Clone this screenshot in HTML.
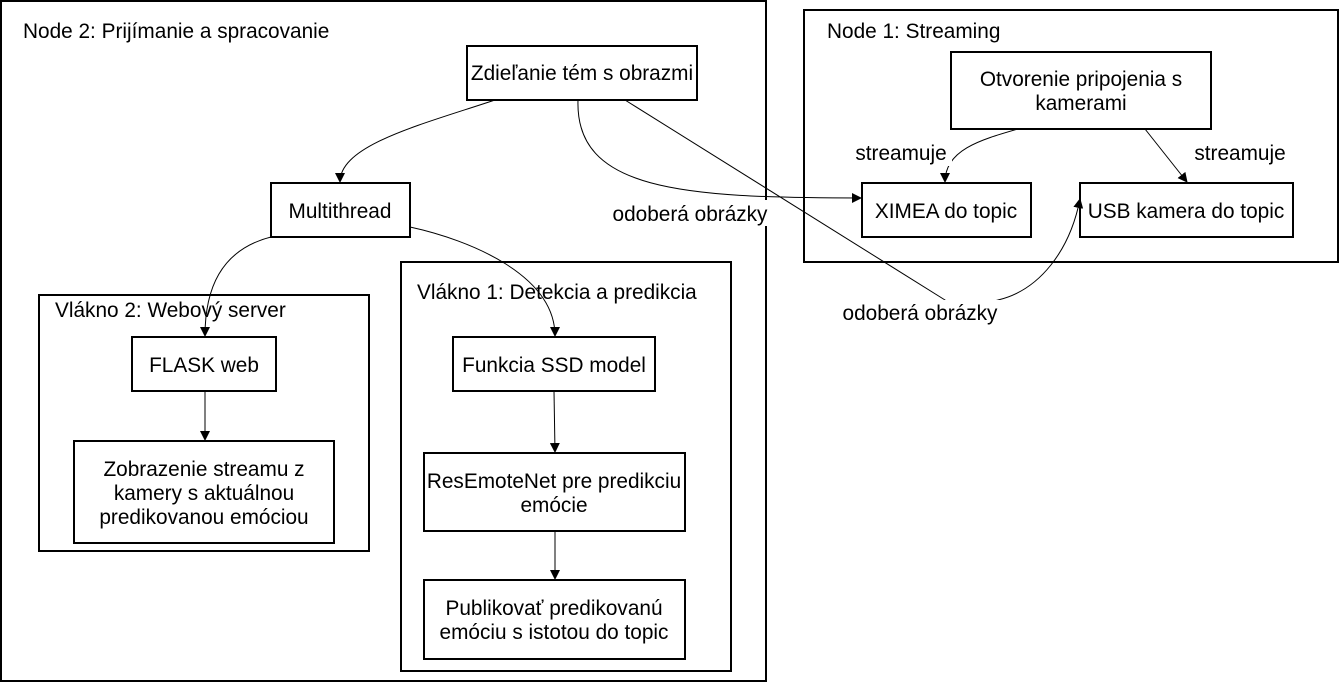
<!DOCTYPE html>
<html><head><meta charset="utf-8"><style>
html,body{margin:0;padding:0;background:#fff;}
svg{display:block;font-family:"Liberation Sans",sans-serif;}
</style></head><body>
<svg width="1340" height="682" viewBox="0 0 1340 682" xmlns="http://www.w3.org/2000/svg">
<defs><marker id="a" markerWidth="10" markerHeight="10" refX="9" refY="5" orient="auto" markerUnits="userSpaceOnUse"><path d="M0,0 L10,5 L0,10 Z" fill="#000"/></marker></defs>
<g fill="none" stroke="#000" stroke-width="2">
<rect x="1" y="1" width="765" height="680"/>
<rect x="804" y="10" width="534" height="252"/>
<rect x="467" y="46" width="230" height="54"/>
<rect x="951" y="52" width="260" height="77"/>
<rect x="862" y="183" width="169" height="54"/>
<rect x="1080" y="183" width="213" height="54"/>
<rect x="271" y="183" width="139" height="54"/>
<rect x="39" y="295" width="330" height="256"/>
<rect x="132" y="337" width="144" height="54"/>
<rect x="74" y="441" width="260" height="102"/>
<rect x="401" y="262" width="330" height="409"/>
<rect x="453" y="337" width="202" height="54"/>
<rect x="424" y="453" width="261" height="78"/>
<rect x="424" y="580" width="261" height="79"/>
</g>
<g fill="none" stroke="#000" stroke-width="1">
<path d="M625,100 L945,300"/>
<path d="M945,300 C955,306 980,306 998,300"/>
</g>
<g fill="none" stroke="#000" stroke-width="1" marker-end="url(#a)">
<path d="M495,100 C420,125 340,145 340,182"/>
<path d="M271,237 C220,250 205,290 205,336"/>
<path d="M410,227 C470,240 555,275 555,336"/>
<path d="M205,391 L205,440"/>
<path d="M554,391 L555,452"/>
<path d="M555,531 L555,579"/>
<path d="M578,100 C575,190 680,198 861,198"/>
<path d="M998,300 C1040,290 1070,250 1080,199"/>
<path d="M1018,129 C980,140 945,150 945,182"/>
<path d="M1145,129 L1187,182"/>
</g>
<rect x="612" y="200" width="158" height="26" fill="#fff"/>
<rect x="842" y="300" width="158" height="26" fill="#fff"/>
<rect x="852" y="140" width="100" height="26" fill="#fff"/>
<g font-size="20.8" fill="#000">
<text x="23" y="38">Node 2: Prijímanie a spracovanie</text>
<text x="827" y="38">Node 1: Streaming</text>
<text x="55" y="317">Vlákno 2: Webový server</text>
<text x="417" y="299">Vlákno 1: Detekcia a predikcia</text>
</g>
<g font-size="20.8" fill="#000" text-anchor="middle">
<text x="582" y="80">Zdieľanie tém s obrazmi</text>
<text x="1081" y="86">Otvorenie pripojenia s</text>
<text x="1081" y="110">kamerami</text>
<text x="946" y="218">XIMEA do topic</text>
<text x="1186" y="218">USB kamera do topic</text>
<text x="340" y="218">Multithread</text>
<text x="204" y="372">FLASK web</text>
<text x="204" y="476">Zobrazenie streamu z</text>
<text x="204" y="500">kamery s aktuálnou</text>
<text x="204" y="524">predikovanou emóciou</text>
<text x="554" y="372">Funkcia SSD model</text>
<text x="554" y="488">ResEmoteNet pre predikciu</text>
<text x="554" y="512">emócie</text>
<text x="554" y="615">Publikovať predikovanú</text>
<text x="554" y="639">emóciu s istotou do topic</text>
<text x="690" y="221">odoberá obrázky</text>
<text x="920" y="320">odoberá obrázky</text>
<text x="901" y="160">streamuje</text>
<text x="1240" y="160">streamuje</text>
</g>
</svg>
</body></html>
